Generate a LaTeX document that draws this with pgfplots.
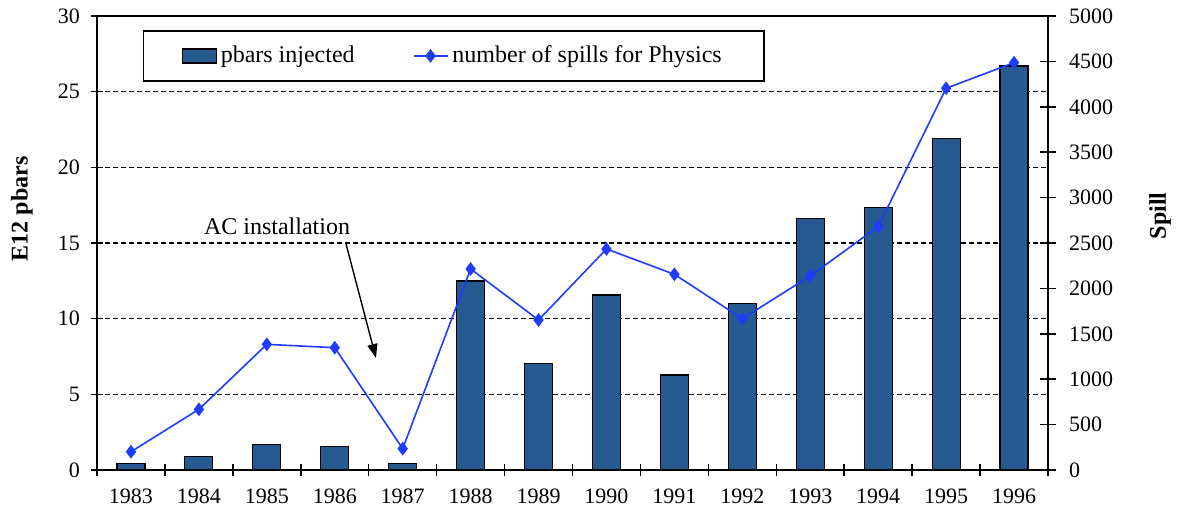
\documentclass[border=0pt]{standalone}
\usepackage{pgfplots}
\pgfplotsset{compat=1.18}
\usepackage{fontspec}
\setmainfont{Liberation Serif}
\usetikzlibrary{arrows.meta}
\definecolor{barblue}{RGB}{37,91,145}
\definecolor{lineblue}{RGB}{30,60,255}
\begin{document}
\begin{tikzpicture}
\begin{axis}[
  scale only axis, width=475.5pt, height=227pt,
  xmin=-0.5, xmax=13.5, ymin=0, ymax=30,
  xtick={-0.5,0.5,...,13.5},
  x tick label as interval,
  xticklabels={1983,1984,1985,1986,1987,1988,1989,1990,1991,1992,1993,1994,1995,1996},
  ytick={0,5,...,30},
  xtick pos=bottom, ytick pos=left,
  tick align=center,
  major tick length=6pt,
  ymajorgrids,
  grid style={black, line width=0.75pt, dash pattern=on 2.5pt off 1.5pt},
  axis line style={line width=0.75pt},
  every tick/.style={black, line width=0.75pt},
  /pgf/number format/assume math mode=true,
  tick label style={font=\fontsize{11}{13}\selectfont},
  xticklabel style={yshift=-3pt},
  yticklabel style={xshift=-2pt},
  clip=false,
]
\addplot[ybar, bar width=14pt, fill=barblue, draw=black, line width=0.6pt] coordinates {
(0,0.44) (1,0.88) (2,1.70) (3,1.54) (4,0.44) (5,12.49) (6,7.05) (7,11.57)
(8,6.28) (9,10.99) (10,16.63) (11,17.34) (12,21.92) (13,26.70)};
\node[font=\fontsize{12}{14}\selectfont] at (axis cs:2.15,16.13) {AC installation};
\draw[line width=0.7pt, -{Triangle[length=7pt,width=5pt]}] (axis cs:3.166,14.94) -- (axis cs:3.607,7.40);
\node[rotate=90, font=\fontsize{12}{14}\selectfont\bfseries] at (axis description cs:-0.079,0.575) {E12 pbars};
\node[rotate=90, font=\fontsize{12}{14}\selectfont\bfseries] at (axis description cs:1.1178,0.56) {Spill};
\end{axis}
\begin{axis}[
  scale only axis, width=475.5pt, height=227pt,
  xmin=-0.5, xmax=13.5, ymin=0, ymax=5000,
  axis x line=none, axis y line*=right,
  ytick={0,500,...,5000},
  scaled y ticks=false,
  tick align=center,
  major tick length=8pt,
  axis line style={line width=0.75pt},
  every tick/.style={black, line width=0.75pt},
  /pgf/number format/assume math mode=true,
  /pgf/number format/1000 sep={},
  tick label style={font=\fontsize{11}{13}\selectfont},
  yticklabel style={xshift=3pt},
  legend columns=2,
  legend style={at={(0.048,0.969)}, anchor=north west, draw=black, line width=0.9pt,
    font=\fontsize{12}{14}\selectfont, inner xsep=19pt, inner ysep=5.5pt,
    /tikz/every even column/.append style={column sep=27pt}},
  legend cell align=left,
]
\addlegendimage{legend image code/.code={\draw[fill=barblue, draw=black, line width=0.6pt] (0pt,-3.5pt) rectangle (17pt,3.5pt);}}
\addlegendentry{pbars injected}
\addplot[color=lineblue, line width=0.8pt, mark=diamond*, mark size=2.8pt, mark options={fill=lineblue}] coordinates {
(0,201) (1,668) (2,1384) (3,1347) (4,235) (5,2214) (6,1652) (7,2434)
(8,2155) (9,1666) (10,2137) (11,2680) (12,4204) (13,4486)};
\addlegendentry{number of spills for Physics}
\end{axis}
\pgfresetboundingbox
\path[use as bounding box] (-48.5pt,-21.5pt) rectangle (540pt,235pt);
\end{tikzpicture}
\end{document}
